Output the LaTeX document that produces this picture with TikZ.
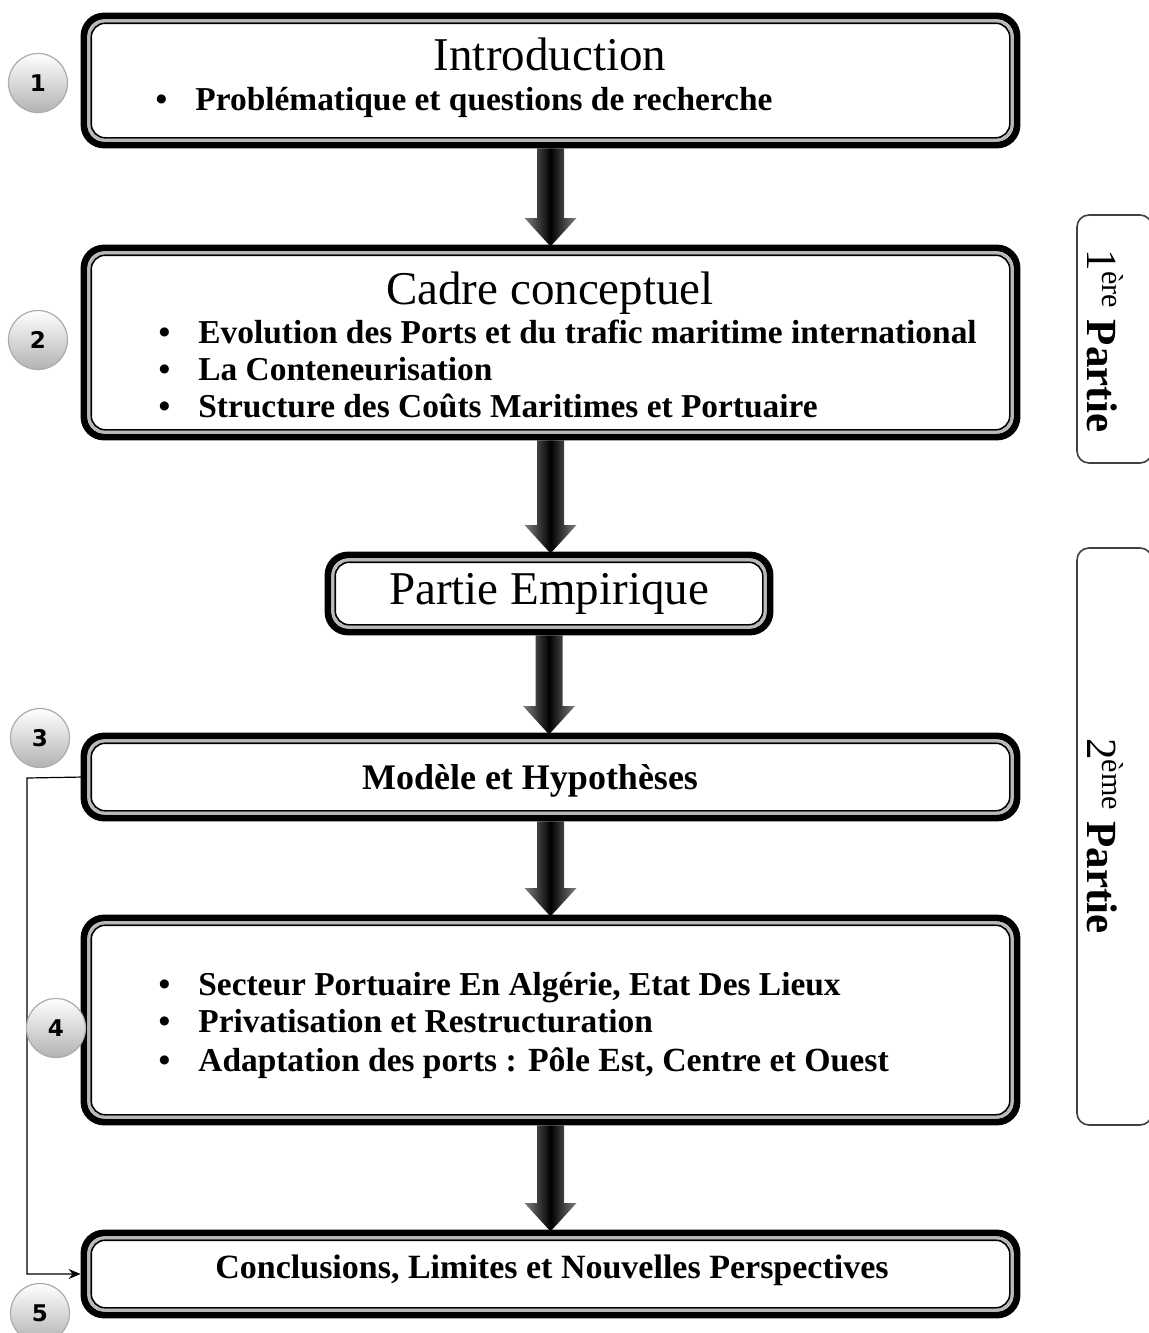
\documentclass[tikz,border=0pt]{standalone}
\usepackage{fontspec}
\setmainfont{Liberation Serif}
\newfontfamily\numfont{DejaVu Sans}
\usetikzlibrary{fit,calc,arrows.meta}
\newcommand\blockarrow[2]{%
  \path[bigarrow] let \p1=(#1.south), \p2=(#2.north) in
   (\x1-6.75pt,\y1-1.7pt) -- (\x1+6.75pt,\y1-1.7pt) -- (\x1+6.75pt,\y2+15pt) -- (\x1+13pt,\y2+15pt)
   -- (\x1,\y2+0.8pt) -- (\x1-13pt,\y2+15pt) -- (\x1-6.75pt,\y2+15pt) -- cycle;}
\begin{document}
\begin{tikzpicture}[x=0.5pt,y=-0.5pt,
  dbox/.style={draw=black, line width=3.4pt, rounded corners=10pt, fill=white, inner sep=0pt, outer sep=0pt},
  gapline/.style={draw=gray!55, line width=1.5pt, rounded corners=8pt},
  inline/.style={draw=black, line width=0.8pt, rounded corners=7pt},
  ttl/.style={font=\fontsize{23.5}{28}\selectfont, anchor=base, inner sep=0pt},
  itm/.style={font=\bfseries\fontsize{16.7}{20}\selectfont, anchor=base west, inner sep=0pt},
  hdr/.style={font=\bfseries\fontsize{17}{20}\selectfont, anchor=base, inner sep=0pt},
  numc/.style={circle, minimum size=29.5pt, inner sep=0pt, draw=gray!65, line width=0.6pt,
    top color=white, bottom color=gray!60, font=\numfont\bfseries\fontsize{11.5}{11.5}\selectfont},
  sidebox/.style={draw=gray!50!black, line width=0.8pt, rounded corners=6pt, inner sep=0pt},
  sidetxt/.style={rotate=-90, font=\fontsize{21.5}{24}\selectfont, inner sep=0pt},
  conn/.style={draw=black, line width=0.6pt},
  bigarrow/.style={left color=black!50, right color=black!50, middle color=black}
]
\useasboundingbox (0,0) rectangle (1149,1333);
\clip (0,0) rectangle (1149,1333);
\fill[white] (0,0) rectangle (1149,1333);

% main boxes
\node[dbox, fit={(84,16) (1017,145)}] (intro) {};
\node[dbox, fit={(84,248) (1017,437)}] (cadre) {};
\node[dbox, fit={(328,555) (770,632)}] (emp) {};
\node[dbox, fit={(84,736) (1017,818)}] (modele) {};
\node[dbox, fit={(84,918) (1017,1122)}] (secteur) {};
\node[dbox, fit={(84,1233) (1017,1315)}] (concl) {};

\foreach \n in {intro,cadre,emp,modele,secteur,concl}{
  \draw[gapline] ([xshift=2.45pt,yshift=-2.45pt]\n.north west) rectangle ([xshift=-2.45pt,yshift=2.45pt]\n.south east);
  \draw[inline] ([xshift=3.6pt,yshift=-3.6pt]\n.north west) rectangle ([xshift=-3.6pt,yshift=3.6pt]\n.south east);
}

% block arrows
\blockarrow{intro}{cadre}
\blockarrow{cadre}{emp}
\blockarrow{emp}{modele}
\blockarrow{modele}{secteur}
\blockarrow{secteur}{concl}

% texts
\node[ttl] (t1) at (550,70) {Introduction};
\node[itm] (i1) at (195,110) {\llap{\textbullet\hspace{14pt}}Problématique et questions de recherche};

\node[ttl] (t2) at (550,304) {Cadre conceptuel};
\node[itm] (i2) at (198,343) {\llap{\textbullet\hspace{14pt}}Evolution des Ports et du trafic maritime international};
\node[itm] (i3) at (198,380) {\llap{\textbullet\hspace{14pt}}La Conteneurisation};
\node[itm] (i4) at (198,417) {\llap{\textbullet\hspace{14pt}}Structure des Coûts Maritimes et Portuaire};

\node[ttl] (t3) at (549,604) {Partie Empirique};
\node[hdr, font=\bfseries\fontsize{18}{20}\selectfont] (t4) at (530,789) {Modèle et Hypothèses};

\node[itm] (i5) at (198,995) {\llap{\textbullet\hspace{14pt}}Secteur Portuaire En Algérie, Etat Des Lieux};
\node[itm] (i6) at (198,1032) {\llap{\textbullet\hspace{14pt}}Privatisation et Restructuration};
\node[itm] (i7) at (198,1071) {\llap{\textbullet\hspace{14pt}}Adaptation des ports {\fontsize{16.9}{20}\selectfont : Pôle Est, Centre et Ouest}};

\node[hdr] (t5) at (552,1278) {Conclusions, Limites et Nouvelles Perspectives};

% side boxes
\node[sidebox, fit={(1077,215) (1152,463)}] (p1) {};
\node[sidebox, fit={(1077,548) (1152,1125)}] (p2) {};
\node[sidetxt] (s1) at (1105,341) {1\textsuperscript{ère} \textbf{Partie}};
\node[sidetxt] (s2) at (1105,836) {2\textsuperscript{ème} \textbf{Partie}};

% connector
\coordinate (bendA) at (27,778);
\draw[conn, -{Stealth[length=6pt,width=5pt]}, shorten >=1.7pt] (modele.west) -- (bendA) |- (concl.west);

% number circles
\node[numc] (c1) at (38,83) {1};
\node[numc] (c2) at (38,340) {2};
\node[numc] (c3) at (40,738) {3};
\node[numc] (c4) at (56,1028) {4};
\node[numc] (c5) at (40,1313) {5};
\end{tikzpicture}
\end{document}
